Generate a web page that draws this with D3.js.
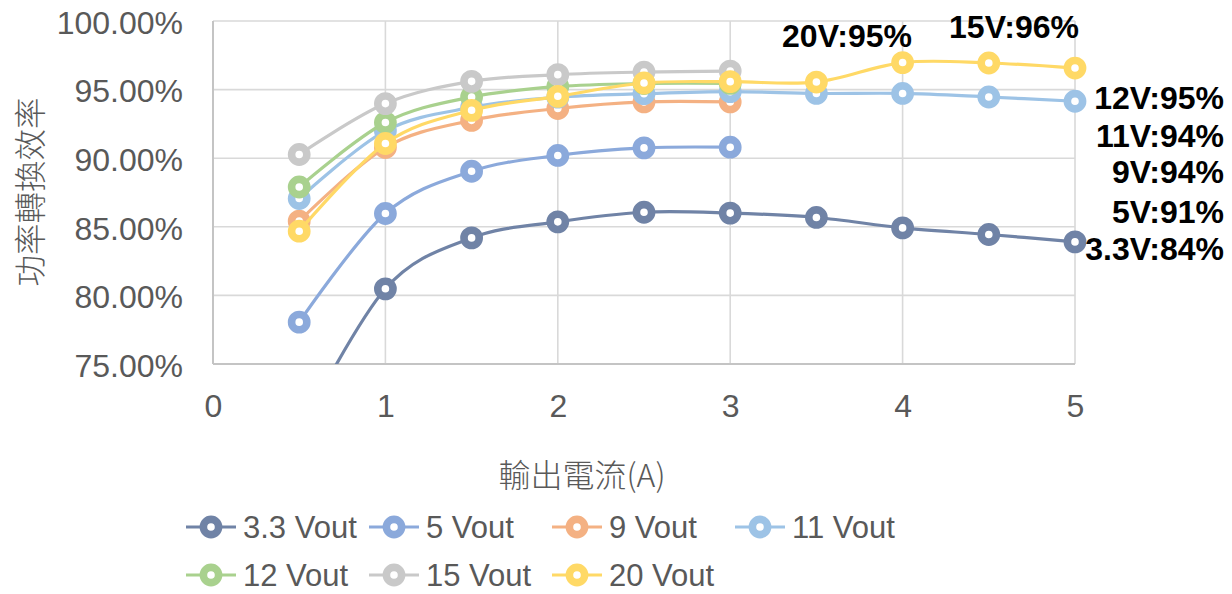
<!DOCTYPE html>
<html>
<head>
<meta charset="utf-8">
<script src="https://cdn.jsdelivr.net/npm/d3@7/dist/d3.min.js"></script>
<style>
  html, body { margin: 0; padding: 0; background: #fff; }
  svg { display: block; }
</style>
</head>
<body>
<svg id="chart" width="1232" height="594"></svg>
<script>
// ---------------- DATA ----------------
const currents = [0.5, 1, 1.5, 2, 2.5, 3, 3.5, 4, 4.5, 5];
const seriesNames = ["3.3 Vout", "5 Vout", "9 Vout", "11 Vout", "12 Vout", "15 Vout", "20 Vout"];
const v33 = [70.0, 80.48, 84.19, 85.36, 86.06, 86.00, 85.68, 84.92, 84.44, 83.90];
const v5  = [78.05, 85.97, 89.05, 90.20, 90.75, 90.80];
const v9  = [85.41, 90.78, 92.76, 93.62, 94.10, 94.10];
const v11 = [87.06, 91.99, 93.70, 94.45, 94.70, 94.85, 94.72, 94.72, 94.46, 94.15];
const v12 = [87.90, 92.60, 94.46, 95.22, 95.44, 95.45];
const v15 = [90.27, 93.98, 95.60, 96.09, 96.28, 96.35];
const v20 = [84.68, 91.07, 93.49, 94.51, 95.48, 95.58, 95.55, 96.97, 96.94, 96.57];
const seriesValues = [v33, v5, v9, v11, v12, v15, v20];
const xTicks = [0, 1, 2, 3, 4, 5];
const yTicks = [75, 80, 85, 90, 95, 100];
const topLabels = ["20V:95%", "15V:96%"];
const rightLabels = ["12V:95%", "11V:94%", "9V:94%", "5V:91%", "3.3V:84%"];
const xTitle = "輸出電流(A)";
const yTitle = "功率轉換效率";

// ---------------- STYLE / LAYOUT ----------------
const colors = ["#7083A6", "#8BA9DB", "#F4B183", "#9DC3E6", "#A9D18E", "#C9C9C9", "#FFD966"];
const svg = d3.select("#chart");
const plot = { left: 213, right: 1075, top: 21, bottom: 364 };
const x = d3.scaleLinear().domain([0, 5]).range([plot.left, plot.right]);
const y = d3.scaleLinear().domain([75, 100]).range([plot.bottom, plot.top]);
const txtFont = "'Liberation Sans', Arial, sans-serif";
const cjkFont = "'Noto Sans CJK TC', 'Noto Sans CJK SC', sans-serif";
const gray = "#595959";

// clip (vertical only)
svg.append("defs").append("clipPath").attr("id", "clipV")
  .append("rect").attr("x", 0).attr("y", 0).attr("width", 1232).attr("height", plot.bottom);

// gridlines
const grid = svg.append("g");
grid.selectAll("line.h").data(yTicks).join("line")
  .attr("class", "h")
  .attr("x1", plot.left).attr("x2", plot.right)
  .attr("y1", d => y(d)).attr("y2", d => y(d))
  .attr("stroke", "#D9D9D9").attr("stroke-width", 1.6);
grid.selectAll("line.v").data(xTicks).join("line")
  .attr("class", "v")
  .attr("y1", plot.top).attr("y2", plot.bottom)
  .attr("x1", d => x(d)).attr("x2", d => x(d))
  .attr("stroke", "#D9D9D9").attr("stroke-width", 1.6);
// axis lines
svg.append("line").attr("x1", plot.left).attr("x2", plot.left).attr("y1", plot.top).attr("y2", plot.bottom)
  .attr("stroke", "#C4C4C4").attr("stroke-width", 2);
svg.append("line").attr("x1", plot.left).attr("x2", plot.right).attr("y1", plot.bottom).attr("y2", plot.bottom)
  .attr("stroke", "#C4C4C4").attr("stroke-width", 2);

// axes via d3 axis generators (styled)
const yAxis = d3.axisLeft(y).tickValues(yTicks).tickSize(0).tickPadding(0).tickFormat(d => d.toFixed(2) + "%");
const gy = svg.append("g").attr("transform", `translate(${plot.left - 30},2)`).call(yAxis);
gy.select(".domain").remove();
gy.selectAll("text").attr("font-family", txtFont).attr("font-size", 32).attr("fill", gray);

const xAxis = d3.axisBottom(x).tickValues(xTicks).tickSize(0).tickPadding(0).tickFormat(d3.format("d"));
const gx = svg.append("g").attr("transform", `translate(0,${plot.bottom + 30})`).call(xAxis);
gx.select(".domain").remove();
gx.selectAll("text").attr("font-family", txtFont).attr("font-size", 32).attr("fill", gray);

// axis titles
svg.append("text").attr("x", 582).attr("y", 487).attr("text-anchor", "middle")
  .attr("font-family", cjkFont).attr("font-weight", 300)
  .attr("font-size", 32).attr("fill", gray).text(xTitle);
svg.append("text").attr("transform", "translate(42,192) rotate(-90)").attr("text-anchor", "middle")
  .attr("font-family", cjkFont).attr("font-weight", 300)
  .attr("font-size", 31.5).attr("fill", gray).text(yTitle);

// series
const line = d3.line().x(d => x(d[0])).y(d => y(d[1])).curve(d3.curveCardinal.tension(0));
const series = seriesValues.map((vals, i) => ({
  name: seriesNames[i], color: colors[i],
  pts: vals.map((v, j) => [currents[j], v])
}));
const sg = svg.append("g").attr("clip-path", "url(#clipV)");
series.forEach(s => {
  const g = sg.append("g");
  g.append("path").attr("d", line(s.pts)).attr("fill", "none")
    .attr("stroke", s.color).attr("stroke-width", 3.2);
  g.selectAll("circle").data(s.pts).join("circle")
    .attr("cx", d => x(d[0])).attr("cy", d => y(d[1])).attr("r", 7.6)
    .attr("fill", "#fff").attr("stroke", s.color).attr("stroke-width", 7.6);
});

// annotations
const boldFont = "'Liberation Sans', Arial, sans-serif";
const topPos = [[847, 46.5], [1014, 38]];
topLabels.forEach((t, i) => {
  svg.append("text").attr("x", topPos[i][0]).attr("y", topPos[i][1]).attr("text-anchor", "middle")
    .attr("font-family", boldFont).attr("font-weight", "bold").attr("font-size", 32).attr("fill", "#000").text(t);
});
const rightBaselines = [109, 146.5, 182.5, 222.5, 259.5];
rightLabels.forEach((t, i) => {
  svg.append("text").attr("x", 1224).attr("y", rightBaselines[i]).attr("text-anchor", "end")
    .attr("font-family", boldFont).attr("font-weight", "bold").attr("font-size", 32).attr("fill", "#000").text(t);
});

// legend
const legendRows = [[0, 1, 2, 3], [4, 5, 6]];
const rowY = [527, 575];
const colStart = 186, colW = 183;
legendRows.forEach((row, r) => {
  row.forEach((si, c) => {
    const s = series[si];
    const sx = colStart + c * colW;
    const g = svg.append("g");
    g.append("line").attr("x1", sx).attr("x2", sx + 50).attr("y1", rowY[r]).attr("y2", rowY[r])
      .attr("stroke", s.color).attr("stroke-width", 3.2);
    g.append("circle").attr("cx", sx + 25).attr("cy", rowY[r]).attr("r", 7.6)
      .attr("fill", "#fff").attr("stroke", s.color).attr("stroke-width", 7.6);
    g.append("text").attr("x", sx + 57).attr("y", rowY[r]).attr("dy", "0.35em")
      .attr("font-family", txtFont).attr("font-size", 31).attr("fill", gray).text(s.name);
  });
});
</script>
</body>
</html>
